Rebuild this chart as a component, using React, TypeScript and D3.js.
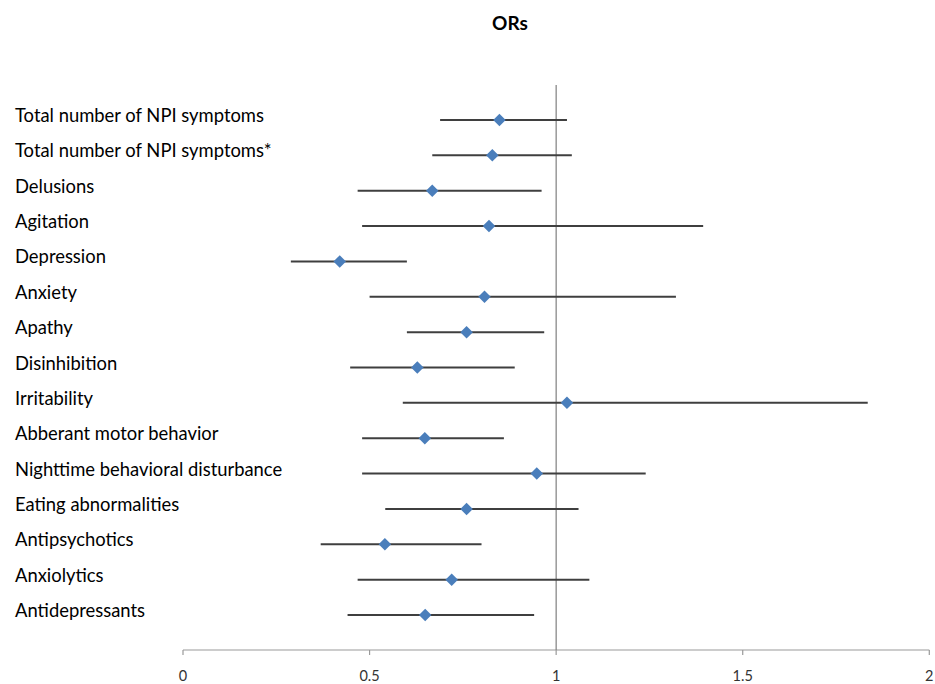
import React from "react";
import * as d3 from "d3";

const categories = [
  "Total number of NPI symptoms",
  "Total number of NPI symptoms*",
  "Delusions",
  "Agitation",
  "Depression",
  "Anxiety",
  "Apathy",
  "Disinhibition",
  "Irritability",
  "Abberant motor behavior",
  "Nighttime behavioral disturbance",
  "Eating abnormalities",
  "Antipsychotics",
  "Anxiolytics",
  "Antidepressants",
];
const orValues = [0.848, 0.829, 0.668, 0.82, 0.42, 0.808, 0.76, 0.628, 1.029, 0.648, 0.948, 0.76, 0.541, 0.72, 0.649];
const lowerCI = [0.689, 0.668, 0.468, 0.48, 0.289, 0.5, 0.6, 0.448, 0.589, 0.48, 0.48, 0.542, 0.369, 0.468, 0.441];
const upperCI = [1.029, 1.042, 0.961, 1.394, 0.6, 1.321, 0.968, 0.889, 1.835, 0.86, 1.24, 1.06, 0.8, 1.089, 0.941];
const xTicks = [0, 0.5, 1, 1.5, 2];
const title = "ORs";

const W = 935;
const H = 684;
const xLeft = 183;
const xRight = 929.3;
const yTop = 120;
const yBottom = 615;
const axisY = 650;
const refTop = 85;

export default function App() {
  const x = d3.scaleLinear().domain([0, 2]).range([xLeft, xRight]);
  const y = d3.scalePoint<string>().domain(categories).range([yTop, yBottom]);
  const diamond = d3.symbol().type(d3.symbolDiamond2).size(100)();
  const font = "Lato, 'Open Sans', sans-serif";

  return (
    <svg
      width={W}
      height={H}
      style={{ position: "absolute", left: 0, top: 0, background: "#fff" }}
      fontFamily={font}
    >
      <rect x={0} y={0} width={W} height={H} fill="#fff" />
      <text x={510} y={30} textAnchor="middle" fontSize={19} fontWeight="bold" fill="#000">
        {title}
      </text>

      {/* x axis */}
      <line x1={x(0)} x2={x(2)} y1={axisY} y2={axisY} stroke="#9a9a9a" strokeWidth={1.2} />
      {xTicks.map((t) => (
        <g key={t}>
          <line x1={x(t)} x2={x(t)} y1={axisY} y2={axisY + 5} stroke="#9a9a9a" strokeWidth={1.2} />
          <text x={x(t)} y={681} textAnchor="middle" fontSize={14.5} fill="#333">
            {String(t)}
          </text>
        </g>
      ))}

      {/* reference line at OR = 1 */}
      <line x1={x(1)} x2={x(1)} y1={refTop} y2={axisY} stroke="#7f7f7f" strokeWidth={1.2} />

      {categories.map((c, i) => {
        const yy = y(c) as number;
        return (
          <g key={c}>
            <text x={15} y={yy + 2} fontSize={18.4} fill="#000">
              {c}
            </text>
            <line x1={x(lowerCI[i])} x2={x(upperCI[i])} y1={yy} y2={yy} stroke="#3f3f3f" strokeWidth={2} />
            <path d={diamond as string} transform={`translate(${x(orValues[i])},${yy})`} fill="#4a7ebb" />
          </g>
        );
      })}
    </svg>
  );
}
